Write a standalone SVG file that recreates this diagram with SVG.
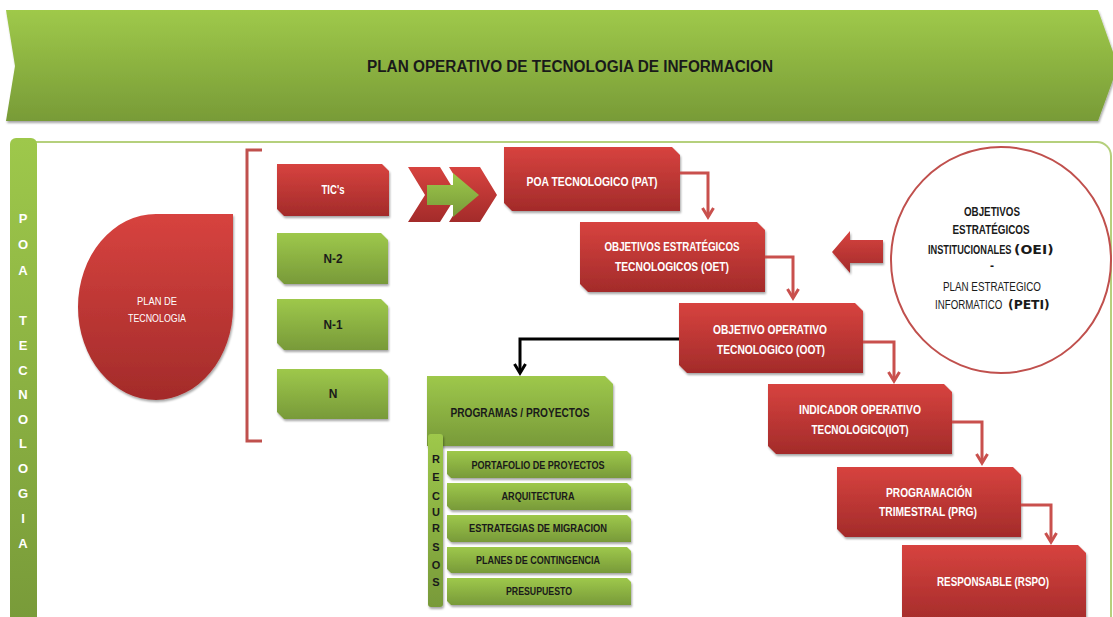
<svg xmlns="http://www.w3.org/2000/svg" width="1113" height="617" viewBox="0 0 1113 617">
<defs>
<linearGradient id="gRed" x1="0" y1="0" x2="0" y2="1"><stop offset="0" stop-color="#d7433f"/><stop offset="1" stop-color="#a32b2a"/></linearGradient>
<linearGradient id="gGreen" x1="0" y1="0" x2="0" y2="1"><stop offset="0" stop-color="#9ec84b"/><stop offset="1" stop-color="#789a39"/></linearGradient>
<linearGradient id="gBanner" x1="0" y1="0" x2="0" y2="1"><stop offset="0" stop-color="#9fc94a"/><stop offset="1" stop-color="#789b37"/></linearGradient>
<filter id="sh" x="-10%" y="-10%" width="130%" height="140%"><feDropShadow dx="1" dy="2" stdDeviation="1.2" flood-color="#000" flood-opacity="0.35"/></filter>
<marker id="ar" viewBox="0 0 14 14" refX="11" refY="7" markerWidth="14" markerHeight="14" markerUnits="userSpaceOnUse" orient="auto"><path d="M2,1.5 L11,7 L2,12.5" fill="none" stroke="#c9504d" stroke-width="3"/></marker>
<marker id="arB" viewBox="0 0 14 14" refX="11" refY="7" markerWidth="14" markerHeight="14" markerUnits="userSpaceOnUse" orient="auto"><path d="M2,1.5 L11,7 L2,12.5" fill="none" stroke="#000" stroke-width="3"/></marker>
</defs>
<style>
.red{fill:url(#gRed);filter:url(#sh)}
.grn{fill:url(#gGreen);filter:url(#sh)}
.t{font-family:"Liberation Sans",Arial,sans-serif;font-weight:bold;font-size:12px;text-anchor:middle}
.s{text-anchor:start}
.hv{font-family:"DejaVu Sans",sans-serif;font-weight:900;font-size:13px}
.w{fill:#fff}
.k{fill:#1a1a1a}
.con{fill:none;stroke:#c9504d;stroke-width:3;marker-end:url(#ar)}
.vl{font-family:"Liberation Sans",Arial,sans-serif;font-weight:bold;text-anchor:middle}
</style>
<rect width="1113" height="617" fill="#fff"/>

<g id="banner">
<path d="M6,10 H1098 L1118,66 L1098,121 H6 L15,66 Z" fill="url(#gBanner)" filter="url(#sh)"/>
<text x="570" y="72" class="t k" style="font-size:16px" textLength="406" lengthAdjust="spacingAndGlyphs">PLAN OPERATIVO DE TECNOLOGIA DE INFORMACION</text>
</g>

<g id="container">
<rect x="20" y="142" width="1091" height="520" rx="14" fill="none" stroke="#b5d07c" stroke-width="2"/>
<rect x="10" y="138" width="27" height="490" rx="6" fill="url(#gGreen)"/>
<g class="vl" fill="#fff" font-size="13">
<text x="23" y="223">P</text><text x="23" y="249">O</text><text x="23" y="275">A</text>
<text x="23" y="325">T</text><text x="23" y="350">E</text><text x="23" y="375">C</text><text x="23" y="399">N</text><text x="23" y="424">O</text><text x="23" y="448">L</text><text x="23" y="473">O</text><text x="23" y="498">G</text><text x="23" y="523">I</text><text x="23" y="548">A</text>
</g>
</g>

<g id="plan-tecnologia">
<path d="M78,307 A78,93 0 0 1 156,214 H233 V307 A78,93 0 0 1 156,400 A78,93 0 0 1 78,307 Z" class="red"/>
<text x="157" y="305" class="t w" style="font-weight:normal;font-size:11px" textLength="40" lengthAdjust="spacingAndGlyphs">PLAN DE</text>
<text x="157" y="322" class="t w" style="font-weight:normal;font-size:11px" textLength="58" lengthAdjust="spacingAndGlyphs">TECNOLOGIA</text>
</g>

<g id="bracket">
<path d="M262,150 H247 V441 H262" fill="none" stroke="#c0504d" stroke-width="3"/>
</g>

<g id="tics">
<path d="M277,164 H382 L389,171 V216 H284 L277,209 Z" class="red"/>
<text x="333" y="194" class="t w" textLength="23" lengthAdjust="spacingAndGlyphs">TIC's</text>
</g>
<g id="n2">
<path d="M277,233 H381 L388,240 V284 H284 L277,277 Z" class="grn"/>
<text x="333" y="263" class="t k" textLength="19" lengthAdjust="spacingAndGlyphs">N-2</text>
</g>
<g id="n1">
<path d="M277,299 H381 L388,306 V350 H284 L277,343 Z" class="grn"/>
<text x="333" y="329" class="t k" textLength="19" lengthAdjust="spacingAndGlyphs">N-1</text>
</g>
<g id="n">
<path d="M277,369 H381 L388,376 V419 H284 L277,412 Z" class="grn"/>
<text x="333" y="398" class="t k">N</text>
</g>

<g id="chevrons">
<path d="M408,167 H440 L457,195 L440,222 H408 L425,195 Z" fill="url(#gRed)"/>
<path d="M449,167 H480 L497,195 L480,222 H449 L466,195 Z" fill="url(#gRed)"/>
<path d="M427,185 H453 V173 L479,195 L453,217 V205 H427 Z" fill="url(#gGreen)"/>
</g>

<g id="pat">
<path d="M504,147 H672 L680,155 V211 H512 L504,203 Z" class="red"/>
<text x="592" y="186" class="t w" textLength="131" lengthAdjust="spacingAndGlyphs">POA TECNOLOGICO  (PAT)</text>
</g>
<g id="oet">
<path d="M580,222 H757 L765,230 V292 H588 L580,284 Z" class="red"/>
<text x="672" y="251" class="t w" textLength="135" lengthAdjust="spacingAndGlyphs">OBJETIVOS ESTRATÉGICOS</text>
<text x="672" y="271" class="t w" textLength="114" lengthAdjust="spacingAndGlyphs">TECNOLOGICOS  (OET)</text>
</g>
<g id="oot">
<path d="M679,303 H855 L863,311 V373 H687 L679,365 Z" class="red"/>
<text x="770" y="334" class="t w" textLength="114" lengthAdjust="spacingAndGlyphs">OBJETIVO OPERATIVO</text>
<text x="771" y="354" class="t w" textLength="108" lengthAdjust="spacingAndGlyphs">TECNOLOGICO  (OOT)</text>
</g>
<g id="iot">
<path d="M768,384 H944 L952,392 V454 H776 L768,446 Z" class="red"/>
<text x="860" y="414" class="t w" textLength="122" lengthAdjust="spacingAndGlyphs">INDICADOR OPERATIVO</text>
<text x="860" y="434" class="t w" textLength="97" lengthAdjust="spacingAndGlyphs">TECNOLOGICO(IOT)</text>
</g>
<g id="prg">
<path d="M837,467 H1013 L1021,475 V537 H845 L837,529 Z" class="red"/>
<text x="929" y="497" class="t w" textLength="86" lengthAdjust="spacingAndGlyphs">PROGRAMACIÓN</text>
<text x="928" y="516" class="t w" textLength="98" lengthAdjust="spacingAndGlyphs">TRIMESTRAL (PRG)</text>
</g>
<g id="rspo">
<path d="M902,545 H1078 L1086,553 V625 H910 L902,617 Z" class="red"/>
<text x="993" y="586" class="t w" textLength="112" lengthAdjust="spacingAndGlyphs">RESPONSABLE (RSPO)</text>
</g>

<g id="oei">
<ellipse cx="1001" cy="260" rx="110" ry="113" fill="#fff" stroke="#c0504d" stroke-width="2"/>
<text x="992" y="216" class="t k" textLength="56" lengthAdjust="spacingAndGlyphs">OBJETIVOS</text>
<text x="991" y="234" class="t k" textLength="77" lengthAdjust="spacingAndGlyphs">ESTRATÉGICOS</text>
<text transform="translate(928,254) scale(0.77,1)" class="t k s">INSTITUCIONALES</text>
<text transform="translate(1014,254) scale(1.08,1)" class="hv k">(OEI)</text>
<text x="992" y="270" class="t k">-</text>
<text x="992" y="291" class="t k" style="font-weight:normal" textLength="98" lengthAdjust="spacingAndGlyphs">PLAN ESTRATEGICO</text>
<text transform="translate(935,309) scale(0.81,1)" class="t k s" style="font-weight:normal">INFORMATICO</text>
<text transform="translate(1008,309) scale(0.95,1)" class="hv k">(PETI)</text>
</g>

<g id="big-arrow">
<path d="M883,240 H850 V231 L832,252 L850,273 V263 H883 Z" class="red"/>
</g>

<g id="programas">
<path d="M427,376 H605 L613,384 V446 H427 Z" class="grn"/>
<text x="520" y="417" class="t k" textLength="139" lengthAdjust="spacingAndGlyphs">PROGRAMAS  /  PROYECTOS</text>
</g>
<g id="recursos">
<rect x="428" y="434" width="15" height="173" rx="3" class="grn"/>
<g class="vl" fill="#1a1a1a" font-size="11">
<text x="436" y="463">R</text><text x="436" y="481">E</text><text x="436" y="500">C</text><text x="436" y="516">U</text><text x="436" y="532">R</text><text x="436" y="551">S</text><text x="436" y="569">O</text><text x="436" y="586">S</text>
</g>
</g>
<g id="portafolio">
<path d="M447,451 H627 L631,455 V478 H451 L447,474 Z" class="grn"/>
<text x="538" y="469" class="t k" style="font-size:11px" textLength="133" lengthAdjust="spacingAndGlyphs">PORTAFOLIO  DE PROYECTOS</text>
</g>
<g id="arquitectura">
<path d="M447,483 H627 L631,487 V510 H451 L447,506 Z" class="grn"/>
<text x="538" y="500" class="t k" style="font-size:11px" textLength="73" lengthAdjust="spacingAndGlyphs">ARQUITECTURA</text>
</g>
<g id="estrategias">
<path d="M447,515 H627 L631,519 V542 H451 L447,538 Z" class="grn"/>
<text x="538" y="532" class="t k" style="font-size:11px" textLength="138" lengthAdjust="spacingAndGlyphs">ESTRATEGIAS  DE  MIGRACION</text>
</g>
<g id="planes">
<path d="M447,547 H627 L631,551 V573 H451 L447,569 Z" class="grn"/>
<text x="538" y="564" class="t k" style="font-size:11px" textLength="124" lengthAdjust="spacingAndGlyphs">PLANES DE CONTINGENCIA</text>
</g>
<g id="presupuesto">
<path d="M447,578 H627 L631,582 V605 H451 L447,601 Z" class="grn"/>
<text x="539" y="595" class="t k" style="font-size:11px" textLength="66" lengthAdjust="spacingAndGlyphs">PRESUPUESTO</text>
</g>

<g id="connectors">
<path class="con" d="M680,173 H708 V217"/>
<path class="con" d="M765,257 H793 V298"/>
<path class="con" d="M863,342 H894 V381"/>
<path class="con" d="M952,422 H982 V463"/>
<path class="con" d="M1021,505 H1051 V542"/>
<path d="M679,339 H520 V373" fill="none" stroke="#000" stroke-width="3" marker-end="url(#arB)"/>
</g>
</svg>
